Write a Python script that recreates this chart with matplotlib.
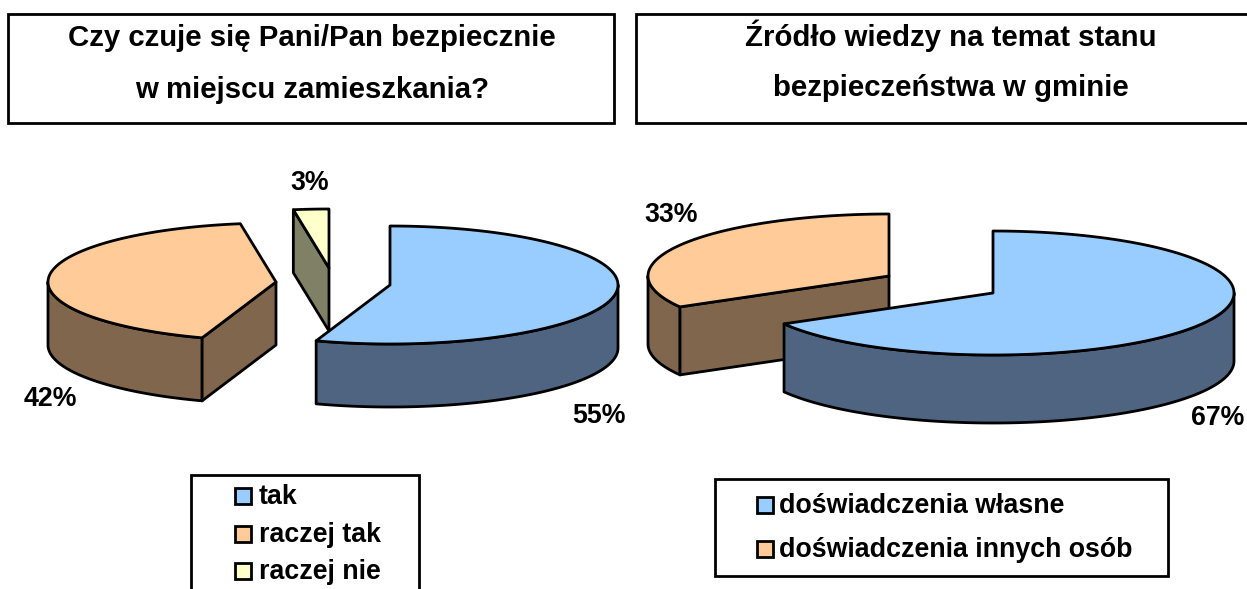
import numpy as np
import matplotlib
matplotlib.use("Agg")
import matplotlib.pyplot as plt
from matplotlib.patches import Polygon, Rectangle

plt.rcParams["font.family"] = ["Liberation Sans", "DejaVu Sans"]
plt.rcParams["font.weight"] = "bold"

left_title = ["Czy czuje się Pani/Pan bezpiecznie", "w miejscu zamieszkania?"]
left_names = ["tak", "raczej tak", "raczej nie"]
left_values = [55.25, 42.25, 2.5]
left_labels = ["55%", "42%", "3%"]

right_title = ["Źródło wiedzy na temat stanu", "bezpieczeństwa w gminie"]
right_names = ["doświadczenia własne", "doświadczenia innych osób"]
right_values = [66.7, 33.3]
right_labels = ["67%", "33%"]

TOPS = ["#99CCFF", "#FFCC99", "#FFFFCC"]
SIDES = ["#4F6480", "#80664C", "#808066"]
LW = 2.0
FS = 19.3
TITLE_FS = 21.2


def slice_3d(ax, cx, cy, rx, ry, depth, a0, a1, top, side):
    """One exploded pie slice, angles clockwise from 12 o'clock."""
    t = np.radians(np.linspace(a0, a1, 200))
    x = cx + rx * np.sin(t)
    y = cy - ry * np.cos(t)
    style = dict(edgecolor="black", lw=LW, joinstyle="round")

    # outer wall, only the part facing the viewer (90..270 deg)
    lo, hi = max(a0, 90), min(a1, 270)
    if lo < hi:
        w = np.radians(np.linspace(lo, hi, 200))
        wx = cx + rx * np.sin(w)
        wy = cy - ry * np.cos(w)
        pts = np.r_[np.c_[wx, wy], np.c_[wx, wy + depth][::-1]]
        ax.add_patch(Polygon(pts, facecolor=side, **style))

    # cut faces that turn towards the viewer
    for xe, ye, ang in [(x[0], y[0], a0), (x[-1], y[-1], a1)]:
        facing = (ang == a0 and 180 < ang < 360) or (ang == a1 and 0 < ang < 180)
        if facing:
            pts = [(cx, cy), (xe, ye), (xe, ye + depth), (cx, cy + depth)]
            ax.add_patch(Polygon(pts, facecolor=side, **style))

    pts = np.r_[[[cx, cy]], np.c_[x, y]]
    ax.add_patch(Polygon(pts, facecolor=top, **style))


def pie_3d(ax, values, centers, rx, ry, depth, order):
    edges = np.r_[0, np.cumsum(values)] / sum(values) * 360
    for i in order:
        slice_3d(ax, *centers[i], rx, ry, depth, edges[i], edges[i + 1], TOPS[i], SIDES[i])


def title_box(ax, x0, x1, lines, xc, ys):
    ax.add_patch(Rectangle((x0, 14), x1 - x0, 109, fc="white", ec="black", lw=LW))
    for line, y in zip(lines, ys):
        ax.text(xc, y, line, ha="center", va="center", fontsize=TITLE_FS)


def legend_box(ax, x0, y0, x1, y1, names, ys, mx, tx):
    ax.add_patch(Rectangle((x0, y0), x1 - x0, y1 - y0, fc="white", ec="black", lw=LW))
    for i, (name, y) in enumerate(zip(names, ys)):
        ax.add_patch(Rectangle((mx, y - 8), 16, 16, fc=TOPS[i], ec="black", lw=LW))
        ax.text(tx, y + 1, name, ha="left", va="center", fontsize=FS)


def main() -> None:
    fig = plt.figure(figsize=(12.47, 5.89), dpi=100)
    ax = fig.add_axes([0, 0, 1, 1])
    ax.set_xlim(0, 1247)
    ax.set_ylim(589, 0)
    ax.axis("off")

    title_box(ax, 8, 614, left_title, 312, [38, 90])
    title_box(ax, 636, 1270, right_title, 951, [36, 88])

    pie_3d(ax, left_values, [(390, 285), (276, 282), (329, 268)], 228, 59, 63, [0, 1, 2])
    pie_3d(ax, right_values, [(993, 293), (889, 276)], 241, 62, 68, [1, 0])

    for s, (x, y) in zip(left_labels, [(599, 416), (50, 399), (310, 183)]):
        ax.text(x, y, s, ha="center", va="center", fontsize=FS)
    for s, (x, y) in zip(right_labels, [(1218, 418), (671, 215)]):
        ax.text(x, y, s, ha="center", va="center", fontsize=FS)

    legend_box(ax, 191, 475, 419, 610, left_names, [496, 534, 571], 235, 259)
    legend_box(ax, 715, 479, 1168, 576, right_names, [505, 549], 757, 779)

    fig.savefig("out.png", dpi=100)
    plt.close(fig)


if __name__ == "__main__":
    main()
